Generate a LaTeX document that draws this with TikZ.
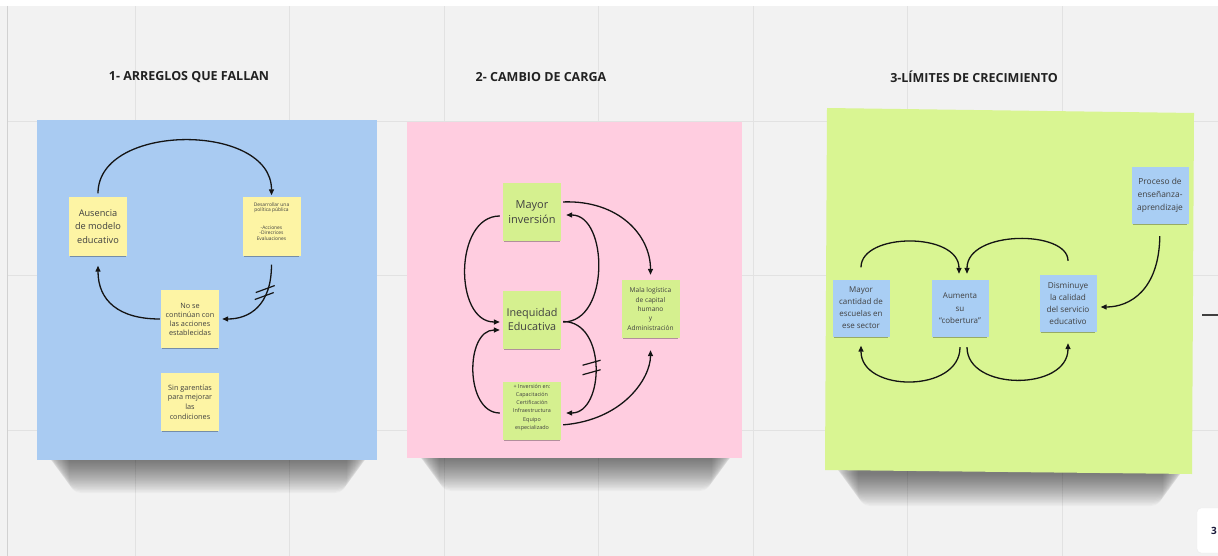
\documentclass[tikz,border=0pt]{standalone}
\usepackage{fontspec}
\setmainfont{Open Sans}
\usetikzlibrary{arrows.meta,shadows}
\definecolor{bg}{HTML}{F2F2F2}
\definecolor{gridc}{HTML}{E2E2E2}
\definecolor{bluepanel}{HTML}{A9CBF2}
\definecolor{pinkpanel}{HTML}{FFCDE0}
\definecolor{greenpanel}{HTML}{D9F592}
\definecolor{yellowst}{HTML}{FDF4A4}
\definecolor{greenst}{HTML}{D5F08F}
\definecolor{bluest}{HTML}{A9CEF4}
\definecolor{sttext}{HTML}{404040}
\definecolor{titletext}{HTML}{222222}
\definecolor{pgtext}{HTML}{1A1A3A}
\newcommand\fs[2]{\fontsize{#1}{#2}\selectfont}
\newcommand\panelshadow[3]{%
  \foreach \k in {1,...,22}{%
    \fill[black, opacity=0.026, rounded corners=12pt] (#1+8+1.1*\k, #3-20) rectangle (#2-6-1.1*\k, #3+1.5*\k);
  }}
\begin{document}
\begin{tikzpicture}[x=1pt,y=-1pt,
  sticky/.style={rectangle, minimum width=58pt, minimum height=58pt, inner sep=0pt, align=center, text=sttext,
     drop shadow={shadow xshift=0pt, shadow yshift=-2.5pt, shadow scale=0.96, opacity=.3, fill=black}},
  ysticky/.style={sticky, fill=yellowst},
  gsticky/.style={sticky, fill=greenst},
  bsticky/.style={sticky, fill=bluest, minimum width=57pt, minimum height=57pt},
  stlabel/.style={align=center, text=sttext, inner sep=0pt},
  title/.style={font=\bfseries\fs{12.5}{15}, text=titletext},
  conn/.style={line width=1.3pt, draw=black!92, -{Triangle[length=6pt,width=5pt]}},
  slash/.style={line width=1.2pt, draw=black!92},
]
\useasboundingbox (0,0) rectangle (1218,556);
% background
\fill[bg] (0,0) rectangle (1218,556);
\foreach \gx in {135,289.5,444,598.5,753,907.5,1062}{\draw[gridc, line width=0.8pt] (\gx,6) -- (\gx,556);}
\foreach \gy in {121,275.5,430}{\draw[gridc, line width=0.8pt] (7,\gy) -- (1218,\gy);}
\fill[white] (0,0) rectangle (1218,6);
\draw[black!18, line width=0.8pt] (7,6) -- (7,556);

% titles
\node[title] (t1) at (189,77) {1- ARREGLOS QUE FALLAN};
\node[title] (t2) at (541,77) {2- CAMBIO DE CARGA};
\node[title] (t3) at (974,77) {3-LÍMITES DE CRECIMIENTO};

% panels
\panelshadow{37}{377}{460}
\fill[bluepanel] (37,120) rectangle (377,460);
\panelshadow{407}{742}{458}
\fill[pinkpanel] (407,122) rectangle (742,458);
\panelshadow{826}{1193}{473}
\fill[greenpanel] (827,108) -- (1194,113) -- (1192,474) -- (825,470) -- cycle;

% ---------- panel 1
\node[ysticky, font=\fs{9.2}{13.5}] (aus) at (98,226.5) {Ausencia\\de modelo\\educativo};
\node[ysticky] (des) at (271.5,226.5) {};
\node[stlabel, font=\fs{4.9}{5.7}] (desT) at ([yshift=5pt]des.center) {Desarrollar una\\política pública\\[11.4pt]-Acciones\\-Direcrices\\Evaluaciones};
\node[ysticky, font=\fs{7.3}{9}] (nose) at (190,319) {No se\\continúan con\\las acciones\\establecidas};
\node[ysticky, font=\fs{7.3}{9.6}] (sin) at (190,402) {Sin garentías\\para mejorar\\las\\condiciones};

\draw[conn, shorten <=4pt, shorten >=2pt] (aus.north) .. controls +(0,-75) and +(0,-75) .. (des.north);
\draw[conn, shorten <=9pt, shorten >=3pt] (des.south) .. controls +(0,50) and +(30,0) .. coordinate[pos=0.33] (s1) (nose.east);
\draw[slash] ([shift={(-9,-1.5)}]s1) -- ([shift={(10,-8.5)}]s1);
\draw[slash] ([shift={(-10,5.5)}]s1) -- ([shift={(9,-1.5)}]s1);
\draw[conn, shorten <=1pt, shorten >=10pt] (nose.west) .. controls +(-42,0) and +(0,45) .. (aus.south);

% ---------- panel 2
\node[gsticky, font=\fs{11}{15}] (mayor) at (532,212) {Mayor\\inversión};
\node[gsticky, font=\fs{10.8}{14}] (ineq) at (532,319.5) {Inequidad\\Educativa};
\node[gsticky] (masinv) at (532,410.5) {};
\node[stlabel, font=\fs{5.4}{8.1}] (masinvT) at ([yshift=3pt]masinv.center) {+ Inversión en:\\Capacitación\\Certificación\\Infraestructura\\Equipo\\especializado};
\node[gsticky, font=\fs{6.6}{9.4}] (mala) at (650.5,309) {Mala logística\\de capital\\humano\\y\\Administración};

\draw[conn, shorten <=3pt, shorten >=3pt] ([yshift=-4pt]mayor.west) .. controls +(-49,0) and +(-49,0) .. ([yshift=-2.5pt]ineq.west);
\draw[conn, shorten <=2pt, shorten >=5pt] ([yshift=-2.5pt]ineq.east) .. controls +(49,0) and +(47,0) .. ([yshift=-3pt]mayor.east);
\draw[conn, shorten <=2pt, shorten >=5pt] ([yshift=-2pt]ineq.east) .. controls +(46,0) and +(43,0) .. coordinate[pos=0.5] (s2) ([yshift=-2.5pt]masinv.east);
\draw[slash] ([shift={(-12,-2)}]s2) -- ([shift={(6,-7)}]s2);
\draw[slash] ([shift={(-12,7.5)}]s2) -- ([shift={(6,2.5)}]s2);
\draw[conn, shorten <=3pt, shorten >=3pt] ([yshift=-2.5pt]masinv.west) .. controls +(-38,0) and +(-38,0) .. ([yshift=-10.5pt]ineq.west);
\draw[conn, shorten <=2pt, shorten >=5pt] ([yshift=10pt]mayor.east) .. controls +(57,-2) and +(0,-45) .. (mala.north);
\draw[conn, shorten <=2pt, shorten >=12pt] ([yshift=-14.5pt]masinv.east) .. controls +(62,-5) and +(0,40) .. (mala.south);

% ---------- panel 3
\node[bsticky, font=\fs{8}{12}] (mayorc) at (861,308) {Mayor\\cantidad de\\escuelas en\\ese sector};
\node[bsticky, font=\fs{8}{12.4}] (aumenta) at (960,308.5) {Aumenta\\su\\“cobertura”};
\node[bsticky, font=\fs{8.2}{12.3}] (dismin) at (1068,303.5) {Disminuye\\la calidad\\del servicio\\educativo};
\node[bsticky, font=\fs{8.4}{13}] (proceso) at (1160,195.5) {Proceso de\\enseñanza-\\aprendizaje};

\draw[conn, shorten <=12pt, shorten >=6pt] (mayorc.north) .. controls +(0,-47) and +(0,-48) .. ([xshift=-1pt]aumenta.north);
\draw[conn, shorten <=14pt, shorten >=6pt] (dismin.north) .. controls +(0,-45) and +(0,-50) .. ([xshift=7pt]aumenta.north);
\draw[conn, shorten <=10pt, shorten >=9pt] (aumenta.south) .. controls +(0,56) and +(0,56) .. (mayorc.south);
\draw[conn, shorten <=10pt, shorten >=11pt] ([xshift=7pt]aumenta.south) .. controls +(0,54) and +(0,59) .. (dismin.south);
\draw[conn, shorten <=12pt, shorten >=4pt] (proceso.south) .. controls +(-1,66) and +(33,0) .. ([yshift=-3.5pt]dismin.east);

% right edge fragment
\coordinate (r1) at (1202,315);
\coordinate (r2) at (1218,315);
\draw[line width=1.5pt, black!75] (r1) -- (r2);

% page indicator
\fill[white, rounded corners=4pt] (1197,508) rectangle (1226,553);
\draw[black!8, rounded corners=4pt] (1197,508) rectangle (1226,553);
\node[font=\bfseries\fs{10}{12}, text=pgtext] (pg) at (1214,531) {3};
\end{tikzpicture}
\end{document}
